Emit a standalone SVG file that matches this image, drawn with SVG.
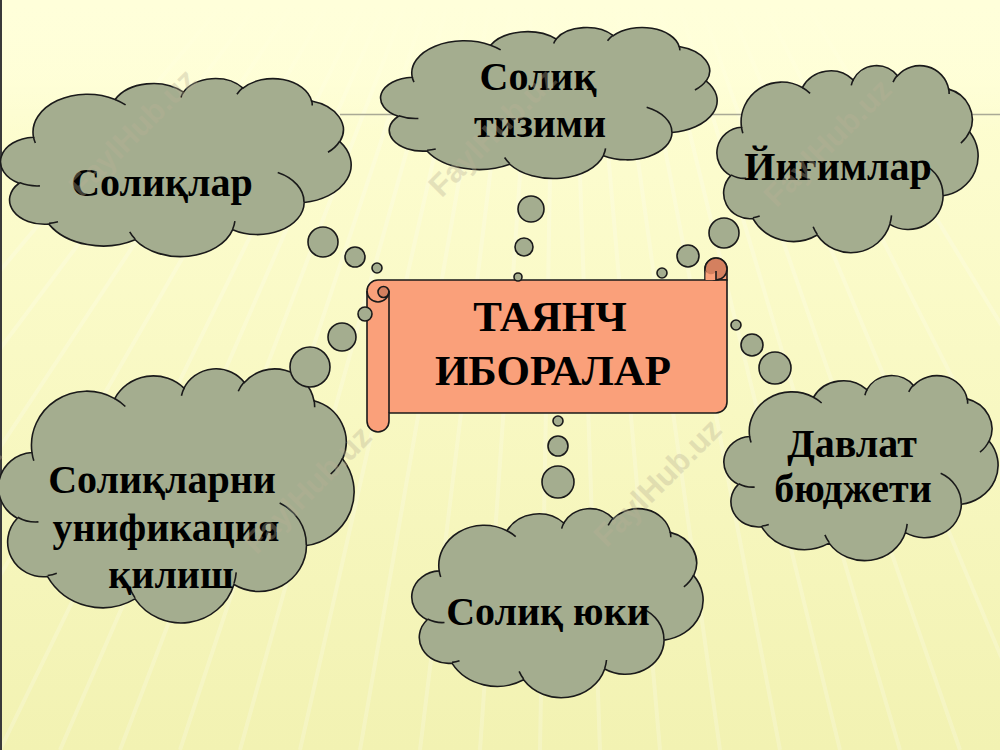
<svg xmlns="http://www.w3.org/2000/svg" xmlns:xlink="http://www.w3.org/1999/xlink" width="1000" height="750" viewBox="0 0 1000 750">
  <style>
    .cloud { fill: #a4ad8f; stroke: #1a1a1a; stroke-width: 1.6; vector-effect: non-scaling-stroke; }
    .cloudin { fill: none; stroke: #1a1a1a; stroke-width: 1.6; vector-effect: non-scaling-stroke; }
    .bub { fill: #a4ad8f; stroke: #1a1a1a; stroke-width: 1.6; }
    .lbl { font-family: "Liberation Serif", "Times New Roman", serif; font-weight: bold; font-size: 40px; fill: #000; text-anchor: middle; }
    .ttl { font-family: "Liberation Serif", "Times New Roman", serif; font-weight: bold; font-size: 43px; fill: #000; text-anchor: middle; }
    .wm { font-family: "Liberation Sans", Arial, sans-serif; font-weight: bold; font-size: 31px; fill: #b9b196; opacity: 0.35; text-anchor: middle; }
    .scroll { fill: #faa07a; stroke: #1a1a1a; stroke-width: 1.6; stroke-linejoin: round; }
    .curl { fill: #d4805f; stroke: #1a1a1a; stroke-width: 1.6; }
  </style>
  <defs>
    <linearGradient id="bg" x1="0" y1="0" x2="0" y2="1">
      <stop offset="0" stop-color="#ffffd8"/>
      <stop offset="0.15" stop-color="#fdfdd0"/>
      <stop offset="0.55" stop-color="#f8f8c2"/>
      <stop offset="1" stop-color="#f2f2b2"/>
    </linearGradient>
    <linearGradient id="fade" x1="0" y1="0" x2="0" y2="1">
      <stop offset="0" stop-color="#ffffda" stop-opacity="1"/>
      <stop offset="0.6" stop-color="#ffffda" stop-opacity="0.6"/>
      <stop offset="1" stop-color="#ffffda" stop-opacity="0"/>
    </linearGradient>
    <g id="cloudShape">
      <path class="cloud" d="M3900,14370 A6753,9190 0 0 1 14004,5201 A5333,7267 0 0 1 22454,3431 A4365,5945 0 0 1 29830,2479 A4857,6595 0 0 1 38316,5573 A5333,7273 0 0 1 41816,15457 A6775,9220 0 0 1 37402,30200 A5785,7867 0 0 1 28553,36810 A6752,9215 0 0 1 16478,39263 A7720,10543 0 0 1 5802,35469 A4360,5918 0 0 1 2111,25547 A4345,5945 0 0 1 3900,14370 Z"/>
      <path class="cloudin" d="M4693,26177 A4345,5945 0 0 1 2160,25380 M6928,34899 A4360,5918 0 0 1 5819,35280 M16478,39090 A6752,9215 0 0 1 15810,37349 M28827,34751 A6752,9215 0 0 1 28560,36661 M34129,22954 A5785,7867 0 0 1 37380,30089 M41798,15354 A5333,7273 0 0 1 40350,18029 M38324,5426 A4857,6595 0 0 1 38400,6691 M29078,3952 A4857,6595 0 0 1 29819,2339 M22141,4720 A4365,5945 0 0 1 22500,3330 M14000,5192 A6753,9190 0 0 1 15300,6542 M4127,15789 A6753,9190 0 0 1 3900,14370"/>
    </g>
  </defs>

  <!-- background -->
  <rect x="0" y="0" width="1000" height="750" fill="url(#bg)"/>
  <g stroke="#ffffff" stroke-width="4" opacity="0.2">
    <line x1="560" y1="-400" x2="-400" y2="750"/>
    <line x1="560" y1="-400" x2="-300" y2="750"/>
    <line x1="560" y1="-400" x2="-200" y2="750"/>
    <line x1="560" y1="-400" x2="-100" y2="750"/>
    <line x1="560" y1="-400" x2="0" y2="750"/>
    <line x1="560" y1="-400" x2="60" y2="750"/>
    <line x1="560" y1="-400" x2="120" y2="750"/>
    <line x1="560" y1="-400" x2="180" y2="750"/>
    <line x1="560" y1="-400" x2="240" y2="750"/>
    <line x1="560" y1="-400" x2="300" y2="750"/>
    <line x1="560" y1="-400" x2="360" y2="750"/>
    <line x1="560" y1="-400" x2="420" y2="750"/>
    <line x1="560" y1="-400" x2="480" y2="750"/>
    <line x1="560" y1="-400" x2="540" y2="750"/>
    <line x1="560" y1="-400" x2="600" y2="750"/>
    <line x1="560" y1="-400" x2="660" y2="750"/>
    <line x1="560" y1="-400" x2="720" y2="750"/>
    <line x1="560" y1="-400" x2="780" y2="750"/>
    <line x1="560" y1="-400" x2="840" y2="750"/>
    <line x1="560" y1="-400" x2="900" y2="750"/>
    <line x1="560" y1="-400" x2="960" y2="750"/>
    <line x1="560" y1="-400" x2="1040" y2="750"/>
    <line x1="560" y1="-400" x2="1140" y2="750"/>
    <line x1="560" y1="-400" x2="1260" y2="750"/>
  </g>
  <rect x="0" y="0" width="1000" height="130" fill="url(#fade)"/>
  <line x1="340" y1="114.5" x2="1000" y2="114.5" stroke="#a9a995" stroke-width="1.5"/>
  <line x1="1" y1="0" x2="1" y2="750" stroke="#3a3a3a" stroke-width="2"/>

  <!-- central scroll -->
  <g id="node-center">
    <path class="scroll" d="M705,280 L705,269 A11,11 0 0 1 727,269 L727,280 Z"/>
    <path class="scroll" d="M367,291 A11,11 0 0 1 378,280 L716,280 L727,280 L727,402 A11,11 0 0 1 716,413 L389,413 L389,421 A11,11 0 0 1 367,421 Z"/>
    <circle class="curl" cx="716" cy="269" r="11"/>
    <path d="M705.5,269 A5.5,5.5 0 0 0 716,271 L716,280 L705.5,280 Z" fill="#faa07a" stroke="none"/>
    <path d="M716,271 L716,280" fill="none" stroke="#1a1a1a" stroke-width="1.6"/>
    <line x1="389" y1="291" x2="389" y2="413" stroke="#1a1a1a" stroke-width="1.6"/>
    <circle class="curl" cx="383.5" cy="292" r="5.5"/>
    <path d="M367,291 A11,11 0 0 0 389,291" fill="none" stroke="#1a1a1a" stroke-width="1.6"/>
    <text class="ttl" x="550" y="331">ТАЯНЧ</text>
    <text class="ttl" x="553" y="385">ИБОРАЛАР</text>
  </g>

  <!-- clouds -->
  <g id="node-soliqlar">
    <use xlink:href="#cloudShape" transform="translate(2,78) scale(0.008079,0.004120)"/>
    <text class="lbl" x="162" y="196">Солиқлар</text>
  </g>
  <g id="node-solik-tizimi">
    <use xlink:href="#cloudShape" transform="translate(382,27) scale(0.007755,0.003495)"/>
    <text class="lbl" x="538" y="90">Солиқ</text>
    <text class="lbl" x="540" y="137">тизими</text>
  </g>
  <g id="node-yigimlar">
    <use xlink:href="#cloudShape" transform="translate(718,65) scale(0.006019,0.004329)"/>
    <text class="lbl" x="838" y="180">Йиғимлар</text>
  </g>
  <g id="node-unifikatsiya">
    <use xlink:href="#cloudShape" transform="translate(0,368) scale(0.008194,0.005880)"/>
    <text class="lbl" x="162" y="493">Солиқларни</text>
    <text class="lbl" x="166" y="541">унификация</text>
    <text class="lbl" x="171" y="588">қилиш</text>
  </g>
  <g id="node-davlat-budjeti">
    <use xlink:href="#cloudShape" transform="translate(725,375) scale(0.006319,0.004282)"/>
    <text class="lbl" x="852" y="457">Давлат</text>
    <text class="lbl" x="853" y="502">бюджети</text>
  </g>
  <g id="node-solik-yuki">
    <use xlink:href="#cloudShape" transform="translate(413,508) scale(0.006713,0.004375)"/>
    <text class="lbl" x="548" y="625">Солиқ юки</text>
  </g>

  <!-- connectors: thought bubbles -->
  <g id="connectors">
    <circle class="bub" cx="323" cy="242" r="15"/>
    <circle class="bub" cx="355" cy="257" r="10"/>
    <circle class="bub" cx="377" cy="268" r="5"/>

    <circle class="bub" cx="365" cy="314" r="7"/>
    <circle class="bub" cx="342" cy="337" r="14"/>
    <circle class="bub" cx="310" cy="367" r="20"/>

    <circle class="bub" cx="531" cy="209" r="13"/>
    <circle class="bub" cx="524" cy="247" r="9"/>
    <circle class="bub" cx="518" cy="277" r="4"/>

    <circle class="bub" cx="662" cy="273" r="5"/>
    <circle class="bub" cx="688" cy="256" r="11"/>
    <circle class="bub" cx="724" cy="233" r="15"/>

    <circle class="bub" cx="736" cy="325" r="5"/>
    <circle class="bub" cx="752" cy="345" r="11"/>
    <circle class="bub" cx="775" cy="368" r="16"/>

    <circle class="bub" cx="558" cy="421" r="5"/>
    <circle class="bub" cx="558" cy="446" r="10"/>
    <circle class="bub" cx="558" cy="482" r="16"/>
  </g>

  <!-- watermark -->
  <g id="watermark">
    <text class="wm" transform="translate(140,140) rotate(-45)">FaylHub.uz</text>
    <text class="wm" transform="translate(500,140) rotate(-45)">FaylHub.uz</text>
    <text class="wm" transform="translate(835,150) rotate(-45)">FaylHub.uz</text>
    <text class="wm" transform="translate(-55,515) rotate(-45)">FaylHub.uz</text>
    <text class="wm" transform="translate(315,497) rotate(-45)">FaylHub.uz</text>
    <text class="wm" transform="translate(665,490) rotate(-45)">FaylHub.uz</text>
  </g>
</svg>
